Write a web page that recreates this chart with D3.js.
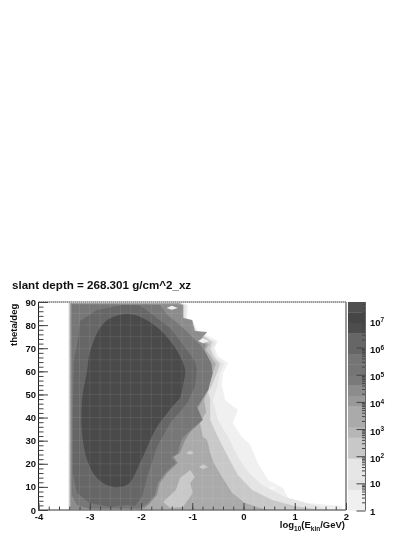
<!DOCTYPE html>
<html>
<head>
<meta charset="utf-8">
<script src="https://cdn.jsdelivr.net/npm/d3@7"></script>
<style>
body { margin: 0; background: #fff; }
svg { display: block; filter: blur(0.4px); }
text { font-family: "Liberation Sans", Arial, sans-serif; font-weight: bold; fill: #111; }
.domain { display: none; }
</style>
</head>
<body>
<div class="chart"></div>
<script>
const titleText = "slant depth = 268.301 g/cm^2_xz";
const xMajor = [-4, -3, -2, -1, 0, 1, 2];
const yMajor = [0, 10, 20, 30, 40, 50, 60, 70, 80, 90];
const zDecades = [0, 1, 2, 3, 4, 5, 6, 7];
const zMaxExp = 7.68;

// grey of the 20 colour levels, lowest first
const levelGreys = ["#f0f0f0", "#f0f0f0", "#e2e2e2", "#e6e6e6", "#e6e6e6", "#c8c8c8", "#c8c8c8", "#b6b6b6", "#aaaaaa", "#aaaaaa",
  "#999999", "#8c8c8c", "#7a7a7a", "#757575", "#757575", "#666666", "#666666", "#4d4d4d", "#464646", "#505050"];

// contour outlines as [log10(E), theta], outermost first
const band1 = [[-3.42,0],[-3.42,89.6],[-1.2,89.6],[-1.08,88.7],[-1.10,83.1],[-0.99,81.8],[-0.89,77.5],[-0.61,74.4],[-0.50,73.1],[-0.56,70.1],[-0.50,66.6],[-0.30,63.6],[-0.40,59.3],[-0.42,54.1],[-0.36,47.6],[-0.11,43.3],[-0.21,37.6],[-0.03,31.6],[0.13,28.1],[0.28,20.3],[0.48,13],[0.77,9.5],[0.87,5.2],[1.26,3],[1.92,1.7],[1.92,0]];
const band2 = [[-3.41,0],[-3.41,89.6],[-1.22,89.6],[-1.12,88.7],[-1.12,83.1],[-1.0,81.3],[-0.91,77.5],[-0.69,74.4],[-0.54,72.7],[-0.6,69.7],[-0.54,66.2],[-0.38,63.2],[-0.46,59.3],[-0.5,54.1],[-0.6,47.6],[-0.5,38.9],[-0.3,31.6],[-0.11,22.9],[0.09,16.4],[0.36,10.8],[0.81,5.6],[1.20,3],[1.53,1.3],[1.59,0]];
const band3 = [[-3.40,0],[-3.40,89.6],[-1.24,89.6],[-1.16,88.7],[-1.16,83.1],[-1.04,81.3],[-0.95,77.5],[-0.75,74.9],[-0.61,72.7],[-0.65,69.7],[-0.58,66.2],[-0.46,63.2],[-0.52,59.3],[-0.61,54.1],[-0.69,51.1],[-0.65,47.6],[-0.65,38.9],[-0.50,31.6],[-0.30,22.9],[-0.11,15.1],[0.17,8.7],[0.56,4.3],[1.0,1.7],[1.39,0.4],[1.4,0]];
const band4 = [[-3.39,0],[-3.39,89.6],[-1.26,89.6],[-1.18,88.7],[-1.18,83.1],[-1.06,81.3],[-0.97,77.5],[-0.77,75.3],[-0.85,73.6],[-0.67,71.8],[-0.73,69.2],[-0.63,66.2],[-0.54,63.2],[-0.60,59.3],[-0.69,51.9],[-0.77,47.6],[-0.73,42.4],[-0.85,37.6],[-0.79,31.6],[-0.71,30.3],[-0.65,24.7],[-0.58,20.3],[-0.42,14.3],[-0.22,7.4],[0.03,3],[0.32,0.9],[0.52,0]];
const band5 = [[-3.37,0.4],[-3.37,89.4],[-1.30,89],[-1.18,88.7],[-1.18,83.1],[-1.0,82.2],[-0.95,77.5],[-0.71,77.0],[-0.85,73.6],[-0.73,71.4],[-0.77,69.2],[-0.69,65.8],[-0.61,63.2],[-0.61,59.3],[-0.69,52.8],[-0.75,49.8],[-0.89,44.1],[-0.79,38.9],[-1.04,33.8],[-1.14,30.3],[-1.24,24.7],[-1.36,22.9],[-1.28,20.3],[-1.49,16],[-1.63,11.7],[-1.69,6.5],[-1.82,3],[-1.92,1],[-2.0,0.4]];
const band6 = [[-3.35,6.5],[-3.35,89],[-1.63,88.7],[-1.49,84.4],[-1.24,80],[-1.04,75.7],[-0.79,70.1],[-0.65,64.5],[-0.60,59.3],[-0.69,51.9],[-0.91,44.6],[-0.81,38.9],[-1.18,31.6],[-1.24,28.1],[-1.28,24.7],[-1.40,22.9],[-1.32,20.3],[-1.53,16],[-1.67,11.7],[-1.73,6.5],[-1.86,3],[-2.02,0.6],[-3.0,0.6],[-3.25,2.2]];
const band7 = [[-3.33,16],[-3.25,7.4],[-3,3],[-2.6,1.3],[-2.27,2.2],[-2.12,1.7],[-1.98,5.6],[-1.88,14.3],[-1.69,27.3],[-1.43,37.6],[-1.10,46.3],[-0.95,53.2],[-0.91,60.6],[-0.95,64.5],[-1.18,71.4],[-1.43,78.8],[-1.77,84.4],[-2.02,88.5],[-2.35,88.7],[-2.86,86.5],[-3.19,81.8],[-3.23,73.6],[-3.31,65],[-3.33,39]];
const band8 = [[-2.25,84.8],[-1.96,83],[-1.63,78],[-1.30,69],[-1.14,60.6],[-1.16,56.3],[-1.24,48.5],[-1.30,47],[-1.69,35.9],[-2.02,20.3],[-2.25,11.2],[-2.55,10],[-2.86,13.8],[-3.05,21.6],[-3.15,33.3],[-3.15,47.6],[-3.05,60.6],[-3.0,68],[-2.8,78.8],[-2.6,83]];
const bands = [band1, band2, band3, band4, band5, band6, band7, band8];
const bandGreys = ["#f0f0f0", "#e4e4e4", "#c8c8c8", "#aaaaaa", "#8c8c8c", "#777777", "#666666", "#4a4a4a"];

// small islands of lower counts
const patchWedge = [[-1.04,17.3],[-0.95,14.3],[-1.04,11.7],[-0.99,7.4],[-1.18,1.3],[-1.43,0.9],[-1.57,3.5],[-1.32,8.7],[-1.24,13.8]];
const patchA = [[-1.50,87.4],[-1.40,88.4],[-1.28,87.4],[-1.40,86.6]];
const patchB = [[-0.89,73.1],[-0.79,74.2],[-0.67,73.1],[-0.79,72.2]];
const patchC = [[-1.12,24.7],[-1.04,25.7],[-0.97,24.7],[-1.04,23.9]];
const patchD = [[-0.87,18.6],[-0.79,19.8],[-0.69,18.6],[-0.79,17.6]];
const patchE = [[0.49,9.5],[0.57,10.2],[0.65,9.5],[0.57,8.9]];
const patchF = [[-1.5,11.7],[-1.4,12.6],[-1.3,11.7],[-1.4,10.8]];
const patches = [patchWedge, patchA, patchB, patchC, patchD, patchE, patchF];
const patchGreys = ["#c8c8c8", "#f0f0f0", "#f0f0f0", "#c8c8c8", "#c8c8c8", "#f8f8f8", "#aaaaaa"];

const margin = ({top: 302, right: 69, bottom: 27, left: 38.5});
const width = 415 - margin.left - margin.right,
      height = 537 - margin.top - margin.bottom;

const svg = d3.select(".chart").append("svg")
    .attr("width", 415)
    .attr("height", 537);
const g = svg.append("g")
    .attr("transform", "translate(" + margin.left + "," + margin.top + ")");

const xScale = d3.scaleLinear().domain([-4, 2]).range([0, 307.5]);
const yScale = d3.scaleLinear().domain([0, 90]).range([208, 0]);
const zScale = d3.scaleLinear().domain([0, zMaxExp]).range([208.5, 0]);

const outline = d3.line()
    .x(d => xScale(d[0]))
    .y(d => yScale(d[1]));

g.selectAll("path.band")
    .data(bands)
    .enter()
    .append("path")
    .attr("class", "band")
    .attr("fill", (d, i) => bandGreys[i])
    .attr("d", (d, i) => {
        // the innermost blob is smooth, the others follow the bins
        if (i == bands.length - 1) return outline.curve(d3.curveCatmullRomClosed)(d);
        return outline.curve(d3.curveLinear)(d) + "Z";
    });

g.selectAll("path.patch")
    .data(patches)
    .enter()
    .append("path")
    .attr("class", "patch")
    .attr("fill", (d, i) => patchGreys[i])
    .attr("d", d => outline.curve(d3.curveLinear)(d) + "Z");

// faint histogram grid, only shows on the dark bands
const gridX = d3.range(-3.4, 2, 0.2);
const gridY = d3.range(5, 90, 5);
g.selectAll("line.gx").data(gridX).enter().append("line")
    .attr("x1", d => xScale(d)).attr("x2", d => xScale(d))
    .attr("y1", yScale(0)).attr("y2", yScale(89.5))
    .attr("stroke", "#fff").attr("stroke-opacity", 0.08);
g.selectAll("line.gy").data(gridY).enter().append("line")
    .attr("x1", xScale(-3.4)).attr("x2", xScale(2))
    .attr("y1", d => yScale(d)).attr("y2", d => yScale(d))
    .attr("stroke", "#fff").attr("stroke-opacity", 0.08);

// frame
g.append("line").attr("x1", 0).attr("x2", width).attr("y1", 0).attr("y2", 0)
    .attr("stroke", "#222").attr("stroke-dasharray", "1.4 0.6");
g.append("line").attr("x1", xScale(2)).attr("x2", xScale(2)).attr("y1", 0).attr("y2", 208)
    .attr("stroke", "#777").attr("stroke-width", 1.5);
g.append("line").attr("x1", 0).attr("x2", 0).attr("y1", 0).attr("y2", 208)
    .attr("stroke", "#222");
g.append("line").attr("x1", 0).attr("x2", xScale(2)).attr("y1", 208).attr("y2", 208)
    .attr("stroke", "#777").attr("stroke-width", 1.5);

// x axis
g.append("g")
    .attr("transform", "translate(0,208)")
    .call(d3.axisBottom(xScale).tickValues(d3.range(-4, 2.01, 0.2)).tickSize(-3.5).tickFormat(""));
const xAxis = g.append("g")
    .attr("class", "axis x-axis")
    .attr("transform", "translate(0,208)")
    .call(d3.axisBottom(xScale).tickValues(xMajor).tickSize(-7).tickPadding(3).tickFormat(d3.format("d")));
xAxis.selectAll("text").attr("font-size", 9.5);
xAxis.selectAll("text").text(d => d < 0 ? "-" + (-d) : d);

// y axis
g.append("g")
    .call(d3.axisLeft(yScale).tickValues(d3.range(0, 90.01, 2)).tickSize(-5).tickFormat(""));
const yAxis = g.append("g")
    .attr("class", "axis y-axis")
    .call(d3.axisLeft(yScale).tickValues(yMajor).tickSize(-9.5).tickPadding(2.5));
yAxis.selectAll("text").attr("font-size", 9.5);
svg.selectAll(".tick line").attr("stroke", "#444");

// colour bar
const bar = svg.append("g").attr("transform", "translate(348," + margin.top + ")");
const barStep = zMaxExp / levelGreys.length;
bar.selectAll("rect")
    .data(levelGreys)
    .enter()
    .append("rect")
    .attr("x", 0)
    .attr("width", 17.5)
    .attr("y", (d, i) => zScale((i + 1) * barStep))
    .attr("height", (d, i) => zScale(i * barStep) - zScale((i + 1) * barStep) + 0.3)
    .attr("fill", d => d);

const zLog = d3.scaleLog().domain([1, Math.pow(10, zMaxExp)]).range([208.5, 0]);
const zMinor = [];
zDecades.forEach(e => d3.range(2, 10).forEach(m => {
    if (e + Math.log10(m) < zMaxExp) zMinor.push(m * Math.pow(10, e));
}));
const barAxis = svg.append("g").attr("transform", "translate(365.5," + margin.top + ")");
barAxis.append("g").call(d3.axisLeft(zLog).tickValues(zMinor).tickSize(3.5).tickFormat(""));
barAxis.append("g").call(d3.axisLeft(zLog).tickValues(zDecades.map(e => Math.pow(10, e))).tickSize(9).tickFormat(""));
barAxis.selectAll(".tick line").attr("stroke", "#444");
barAxis.append("line").attr("y1", 0).attr("y2", 208.5).attr("stroke", "#666");

const barLabels = svg.append("g").selectAll("text")
    .data(zDecades)
    .enter()
    .append("text")
    .attr("x", 370)
    .attr("y", d => margin.top + zScale(d) + (d > 1 ? 5.5 : 4))
    .attr("font-size", 9.5);
barLabels.append("tspan").text(d => d == 0 ? "1" : "10");
barLabels.filter(d => d > 1).append("tspan")
    .attr("dy", -3.5).attr("font-size", 6.5).text(d => d);

// titles
svg.append("text")
    .attr("x", 12).attr("y", 289)
    .attr("font-size", 11.6)
    .text(titleText);
svg.append("text")
    .attr("transform", "translate(17,346) rotate(-90)")
    .attr("font-size", 9.5)
    .text("theta/deg");
const xTitle = svg.append("text")
    .attr("x", 345).attr("y", 528)
    .attr("text-anchor", "end")
    .attr("font-size", 9.5);
xTitle.append("tspan").text("log");
xTitle.append("tspan").attr("dy", 2.5).attr("font-size", 6.5).text("10");
xTitle.append("tspan").attr("dy", -2.5).text("(E");
xTitle.append("tspan").attr("dy", 2.5).attr("font-size", 6.5).text("kin");
xTitle.append("tspan").attr("dy", -2.5).text("/GeV)");
</script>
</body>
</html>
